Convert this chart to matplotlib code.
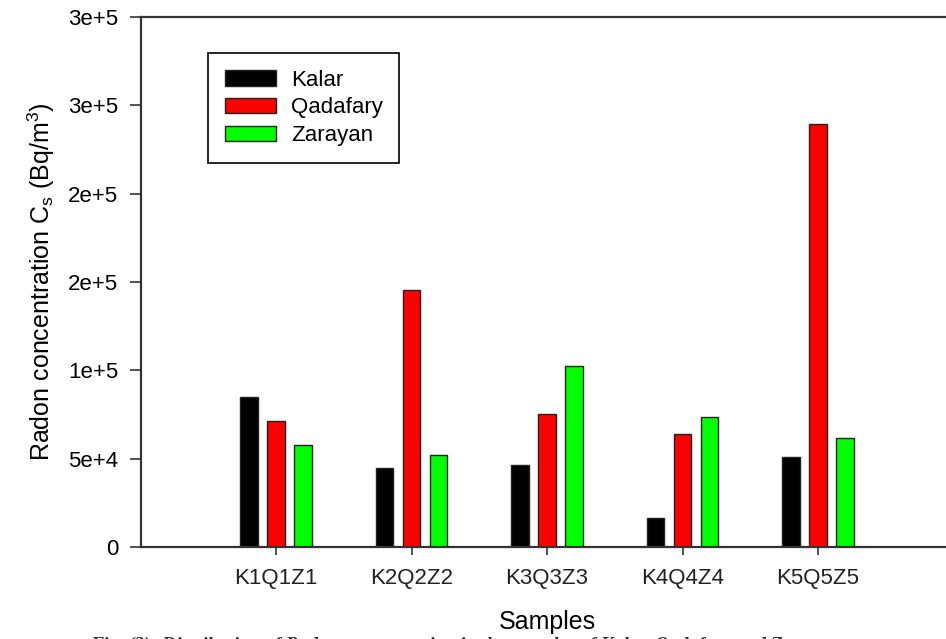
import matplotlib
matplotlib.use('Agg')
import matplotlib.pyplot as plt
import numpy as np
from matplotlib.ticker import FixedLocator, FixedFormatter

plt.rcParams['font.family'] = ['Liberation Sans', 'DejaVu Sans']
plt.rcParams['mathtext.default'] = 'regular'

samples = ['K1Q1Z1', 'K2Q2Z2', 'K3Q3Z3', 'K4Q4Z4', 'K5Q5Z5']
kalar = [85000, 44600, 46500, 16400, 51000]
qadafary = [71500, 145500, 75400, 64000, 239400]
zarayan = [57600, 52000, 102400, 73600, 61500]
y_ticks = [0, 50000, 100000, 150000, 200000, 250000, 300000]
y_labels = ['0', '5e+4', '1e+5', '2e+5', '2e+5', '3e+5', '3e+5']

fig = plt.figure(figsize=(9.46, 6.39), dpi=100)
# axes runs a bit past the right edge, like the cropped original
ax = fig.add_axes([140.5 / 946, 92 / 639, 813 / 946, 530 / 639])

x = np.arange(1, len(samples) + 1)
w = 0.13
ax.bar(x - 0.2, kalar, w, color='black', edgecolor='#222222', linewidth=1, label='Kalar')
ax.bar(x, qadafary, w, color='#ff0000', edgecolor='#222222', linewidth=1, label='Qadafary')
ax.bar(x + 0.2, zarayan, w, color='#00ff00', edgecolor='#222222', linewidth=1, label='Zarayan')

ax.set_xlim(0, 6)
ax.set_ylim(0, 300000)
ax.set_xticks(x)
ax.set_xticklabels(samples, fontsize=16, color='#222222')
ax.yaxis.set_major_locator(FixedLocator(y_ticks))
ax.yaxis.set_major_formatter(FixedFormatter(y_labels))
ax.tick_params(axis='y', labelsize=16, length=8, width=1.2, color='#333333', pad=8)
ax.tick_params(axis='x', length=6, width=1.2, color='#333333', pad=9)

for s in ['left', 'bottom', 'top']:
    ax.spines[s].set_color('#333333')
    ax.spines[s].set_linewidth(1.6)
ax.spines['right'].set_visible(False)

ax.set_ylabel('Radon concentration C$_s$ (Bq/m$^3$)', fontsize=18, labelpad=8)
ax.set_xlabel('Samples', fontsize=18, labelpad=15)

leg = ax.legend(loc='upper left', bbox_to_anchor=(0.083, 0.932), fontsize=16,
                fancybox=False, edgecolor='black', framealpha=1,
                handlelength=2.3, handleheight=0.68, borderpad=0.75,
                labelspacing=0.3, handletextpad=0.68, borderaxespad=0)
leg.get_frame().set_linewidth(1.2)

# caption of the source figure, cut by the lower edge as in the original
fig.text(0.095, 0.004, 'Fig. (3): Distribution of Radon concentration in the samples of Kalar, Qadafary and Zarayan',
         fontsize=14, fontweight='bold', style='italic', family='Liberation Serif',
         va='top', ha='left', color='#333333')

fig.savefig('out.png', dpi=100)
